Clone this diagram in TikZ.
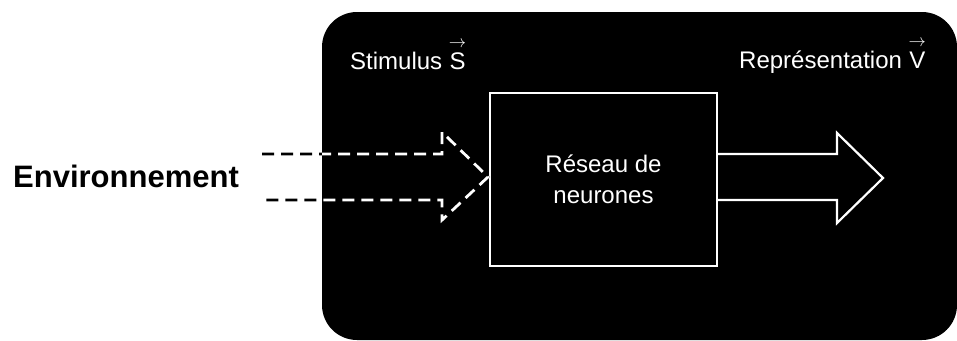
\documentclass[tikz,border=0pt]{standalone}
\usepackage{fontspec}
\setmainfont{Liberation Sans}
\usepackage{amsmath}

\begin{document}
\begin{tikzpicture}[x=1pt,y=-1pt,
  etiquette/.style={text=white,inner sep=0pt,anchor=base west,font=\fontsize{24}{29}\selectfont},
  reseau/.style={draw=white,line width=1.6pt,minimum width=227pt,minimum height=173pt,text=white,align=center,font=\fontsize{24}{31}\selectfont},
  fleche/.style={line width=2.2pt,line join=miter},
  pointilles/.style={line width=2.8pt,line join=miter,dash pattern=on 12pt off 7pt}]
\useasboundingbox (0,0) rectangle (957,340);
\fill[rounded corners=35pt] (322,12) rectangle (957,340);
\node[reseau] (reseau) at (603.5,179.5) {R\'eseau de\\neurones};
\node[etiquette] (stimulus) at (350,69) {Stimulus $\overset{\rightarrow}{\mbox{S}}$};
\node[etiquette] (representation) at (739,68) {Repr\'esentation $\overset{\rightarrow}{\mbox{V}}$};
\node[anchor=base west,inner sep=0pt,font=\fontsize{31}{37}\selectfont\bfseries] (environnement) at (13,187) {Environnement};
% entree en pointilles
\draw[pointilles,black] (262,154) -- (442,154) -- (442,132) -- (488,177) -- (442,220) -- (442,200) -- (262,200);
\begin{scope}
\clip[rounded corners=35pt] (322,12) rectangle (957,340);
\draw[pointilles,white] (262,154) -- (442,154) -- (442,132) -- (488,177) -- (442,220) -- (442,200) -- (262,200);
\end{scope}
% sortie
\draw[fleche,white] (reseau.east |- {(0,154)}) -- (837,154) -- (837,133) -- (883,178) -- (837,223) -- (837,200) -- (reseau.east |- {(0,200)});
\end{tikzpicture}
\end{document}
